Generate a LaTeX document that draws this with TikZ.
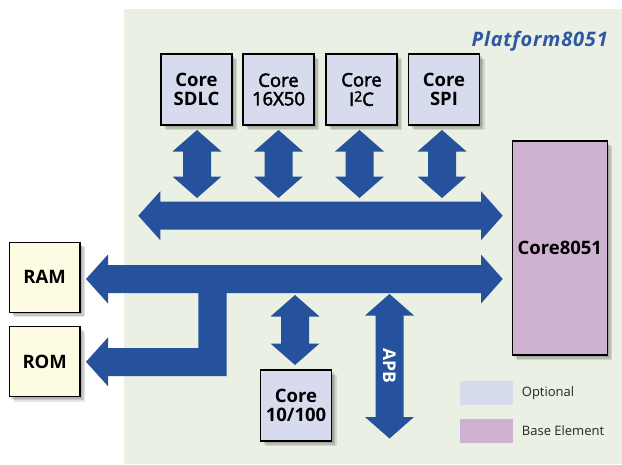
\documentclass[tikz,border=0pt]{standalone}
\usepackage{fontspec}
\setmainfont{Open Sans}
\newfontface\medface{Open Sans}[FakeBold=2.5]
\usetikzlibrary{shadows}
\definecolor{panel}{HTML}{EAF0E3}
\definecolor{busblue}{HTML}{26519C}
\definecolor{titleblue}{HTML}{2E58A4}
\definecolor{optfill}{HTML}{D6DBEE}
\definecolor{basefill}{HTML}{CFB1D2}
\definecolor{memfill}{HTML}{FDFCE3}
\newcommand\vdarrow[3]{%
  \fill[busblue] (#1,#2) -- (#1+24.5,#2+21.5) -- (#1+14,#2+21.5) -- (#1+14,#3-21.5) -- (#1+24.5,#3-21.5) -- (#1,#3) -- (#1-24.5,#3-21.5) -- (#1-14,#3-21.5) -- (#1-14,#2+21.5) -- (#1-24.5,#2+21.5) -- cycle;}
\tikzset{
  shadowy/.style={drop shadow={shadow xshift=5pt,shadow yshift=-5pt,opacity=.10,fill=black},
                  drop shadow={shadow xshift=3.5pt,shadow yshift=-3.5pt,opacity=.12,fill=black},
                  drop shadow={shadow xshift=2pt,shadow yshift=-2pt,opacity=.12,fill=black}},
  corebox/.style={shadowy,draw=black,line width=1.4pt,fill=optfill,minimum width=71pt,minimum height=71pt,inner sep=0pt,align=center,font=\fontsize{18.5}{18.5}\selectfont\bfseries},
  medbox/.style={corebox,font=\fontsize{18.5}{18.5}\medface},
  membox/.style={corebox,fill=memfill,minimum width=70.7pt,minimum height=70pt},
  legbox/.style={minimum width=52.7pt,minimum height=24pt,inner sep=0pt},
  legtext/.style={anchor=west,inner sep=0pt,font=\fontsize{13}{15}\selectfont,text=black!85}
}
\begin{document}
\begin{tikzpicture}[x=1pt,y=-1pt]
\useasboundingbox (0,0) rectangle (622,464);
\fill[panel] (124,9) rectangle (622,464);
\node[anchor=base east,inner sep=0pt,text=titleblue,font=\fontsize{20}{22}\selectfont\bfseries\itshape\addfontfeature{LetterSpace=4}] (title) at (608,46) {Platform8051};

% boxes
\node[corebox] (sdlc) at (196.5,89.5) {Core\\SDLC};
\node[medbox] (uart) at (278.5,89.5) {Core\\16X50};
\node[medbox] (i2c) at (361.5,89.5) {Core\\[1pt]I\raisebox{4.5pt}{\fontsize{14}{14}\medface 2}C};
\node[corebox] (spi) at (444,89.5) {Core\\SPI};
\node[corebox,fill=basefill,minimum width=95pt,minimum height=214pt] (c8051) at (559.8,248) {Core8051};
\node[membox] (ram) at (44.7,277.3) {RAM};
\node[membox] (rom) at (44.7,361.7) {ROM};
\node[corebox] (eth) at (296,405.5) {Core\\10/100};

% vertical double arrows
\vdarrow{197}{130}{198}
\vdarrow{278.5}{130}{198}
\vdarrow{359.5}{130}{198}
\vdarrow{442}{130}{198}
\vdarrow{295}{295}{365}
\vdarrow{389.5}{294}{438.5}
\node[rotate=-90,text=white,inner sep=0pt,font=\fontsize{17.5}{18}\selectfont\bfseries] (apb) at (389.5,366) {APB};

% upper bus
\fill[busblue] (138.3,215.7) -- (160.3,191.2) -- (160.3,201.7) -- (481,201.7) -- (481,191.2) -- (502.7,215.7) -- (481,240.2) -- (481,229.7) -- (160.3,229.7) -- (160.3,240.2) -- cycle;
% lower bus with RAM/ROM branches
\fill[busblue] (502.7,279) -- (481,303.5) -- (481,293) -- (226.7,293) -- (226.7,376) -- (108,376) -- (108,386.2) -- (86,361.8) -- (108,337.4) -- (108,348) -- (198.3,348) -- (198.3,293) -- (108,293) -- (108,303.5) -- (86,279) -- (108,254.5) -- (108,265) -- (481,265) -- (481,254.5) -- cycle;

% legend
\node[legbox,fill=optfill] (legopt) at (486.3,393) {};
\node[legbox,fill=basefill] (legbase) at (486.3,430.8) {};
\node[legtext] (legopttext) at (521.7,393) {Optional};
\node[legtext] (legbasetext) at (521.7,430.8) {Base Element};
\end{tikzpicture}
\end{document}
